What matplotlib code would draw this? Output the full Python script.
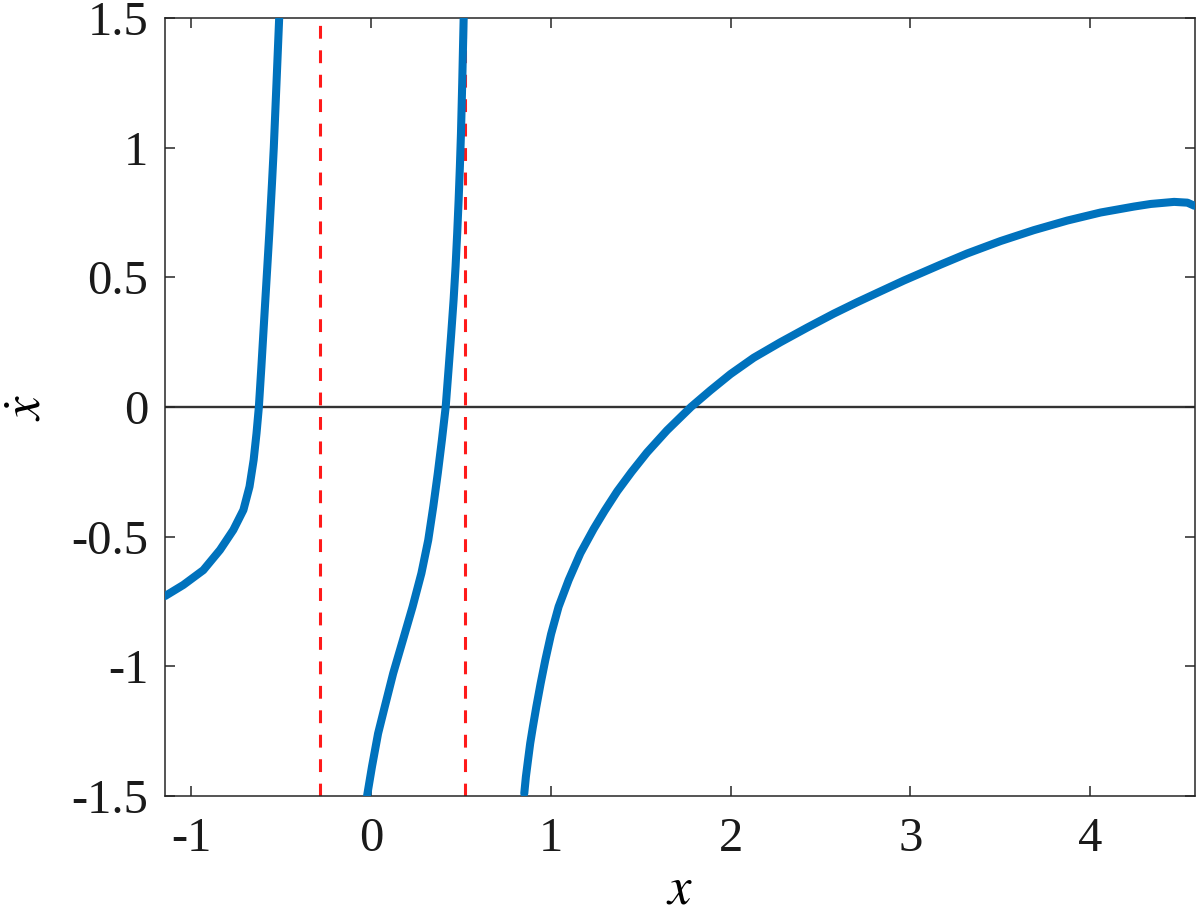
import matplotlib
matplotlib.use("Agg")
import matplotlib.pyplot as plt

plt.rcParams['font.family'] = ['Liberation Serif', 'DejaVu Serif']
plt.rcParams['mathtext.fontset'] = 'stix'
plt.rcParams['axes.unicode_minus'] = False

# Branch 1 (left of first singularity)
b1_x = [-1.145, -1.043, -0.932, -0.839, -0.765, -0.709, -0.675, -0.652, -0.636,
        -0.623, -0.609, -0.598, -0.587, -0.576, -0.565, -0.550, -0.540, -0.525,
        -0.510]
b1_y = [-0.729, -0.686, -0.629, -0.551, -0.474, -0.397, -0.307, -0.204, -0.101,
        0.000, 0.155, 0.284, 0.413, 0.541, 0.670, 0.863, 1.000, 1.248,
        1.500]

# Branch 2 (between the singularities)
b2_x = [-0.022, 0.006, 0.040, 0.077, 0.124, 0.178, 0.232, 0.281, 0.319, 0.347,
        0.372, 0.395, 0.416, 0.433, 0.447, 0.460, 0.471, 0.480, 0.488, 0.495,
        0.501, 0.508, 0.512, 0.516]
b2_y = [-1.503, -1.387, -1.259, -1.156, -1.027, -0.899, -0.770, -0.641, -0.513, -0.384,
        -0.256, -0.127, 0.000, 0.155, 0.285, 0.413, 0.542, 0.670, 0.798, 0.928,
        1.055, 1.250, 1.377, 1.500]

# Branch 3 (right branch)
b3_x = [0.853, 0.862, 0.874, 0.886, 0.901, 0.920, 0.944, 0.970, 1.002, 1.044,
        1.100, 1.165, 1.239, 1.300, 1.370, 1.450, 1.536, 1.647, 1.780, 1.888,
        2.000, 2.129, 2.278, 2.426, 2.574, 2.704, 2.834, 2.965, 3.168, 3.316,
        3.502, 3.687, 3.873, 4.058, 4.244, 4.337, 4.467, 4.541, 4.580]
b3_y = [-1.490, -1.426, -1.361, -1.297, -1.233, -1.156, -1.066, -0.976, -0.876, -0.770,
        -0.667, -0.564, -0.470, -0.400, -0.325, -0.250, -0.175, -0.090, 0.000, 0.064,
        0.127, 0.190, 0.250, 0.306, 0.360, 0.404, 0.446, 0.488, 0.549, 0.592,
        0.640, 0.682, 0.719, 0.750, 0.773, 0.783, 0.791, 0.788, 0.776]

# Singularity positions (red dashed lines)
sing_x = [-0.282, 0.521]

x_ticks = [-1, 0, 1, 2, 3, 4]
x_ticklabels = ['-1', '0', '1', '2', '3', '4']
y_ticks = [-1.5, -1, -0.5, 0, 0.5, 1, 1.5]
y_ticklabels = ['-1.5', '-1', '-0.5', '0', '0.5', '1', '1.5']

fig = plt.figure(figsize=(12, 9.24), dpi=100)
ax = fig.add_axes([0.1375, 0.1385, 0.8583, 0.842])

blue = '#0072BD'
ax.axhline(0, color='#333333', lw=1.7, zorder=1)
for sx in sing_x:
    ax.plot([sx, sx], [-1.5, 1.5], color='#ff1a1a', lw=2.2, dashes=(4.2, 3.8),
            zorder=2)

for bx, by in [(b1_x, b1_y), (b2_x, b2_y), (b3_x, b3_y)]:
    ax.plot(bx, by, color=blue, lw=5.8, solid_capstyle='round',
            solid_joinstyle='round', zorder=3)

ax.set_xlim(-1.145, 4.583)
ax.set_ylim(-1.5, 1.5)
ax.set_xticks(x_ticks)
ax.set_xticklabels(x_ticklabels)
ax.set_yticks(y_ticks)
ax.set_yticklabels(y_ticklabels)
ax.tick_params(axis='both', direction='in', length=7, width=1.1, colors='#262626',
               labelsize=35, labelcolor='#1a1a1a', top=True, right=True)
ax.tick_params(axis='x', pad=15)
ax.tick_params(axis='y', pad=12)
for sp in ax.spines.values():
    sp.set_color('#262626')
    sp.set_linewidth(1.1)

ax.set_xlabel(r'$x$', fontsize=38, labelpad=4)
ax.set_ylabel(r'$\dot{x}$', fontsize=38, labelpad=14)

fig.savefig('out.png', dpi=100)
